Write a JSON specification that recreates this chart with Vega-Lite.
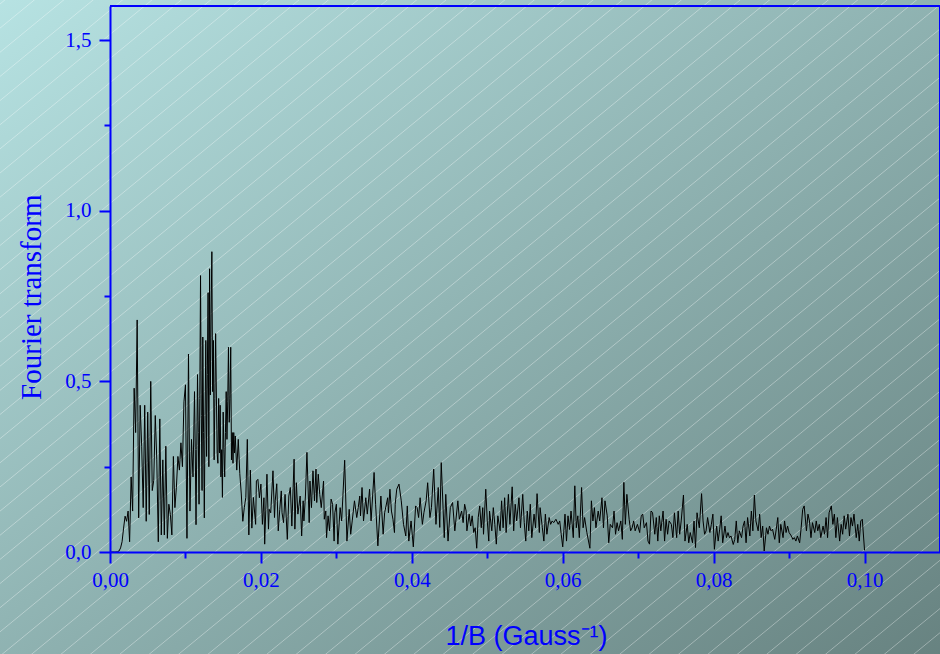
{
"$schema": "https://vega.github.io/schema/vega-lite/v6.json",
"width": 830, "height": 546,
"autosize": {"type": "none"},
"padding": {"left": 110, "top": 6, "right": 0, "bottom": 102},
"background": "#90b2b1",
"config": {"view": {"stroke": null},
 "axis": {"tickWidth": 2, "tickColor": "#0000ff", "domainColor": "#0000ff", "domainWidth": 2,
  "labelColor": "#0000ff", "labelFont": "Liberation Serif", "labelFontSize": 21,
  "labelFlush": false, "labelOverlap": false, "grid": false,
  "titleFontWeight": "normal", "titleColor": "#0000ff"}},
"resolve": {"axis": {"x": "independent", "y": "independent"}},
"layer": [
{"data": {"values": [{"k": 1}]},
 "mark": {"type": "rect", "clip": false, "fill": {"gradient": "linear", "x1": 0, "y1": 0, "x2": 1, "y2": 1, "stops": [{"offset": 0, "color": "#b7e3e3"}, {"offset": 1, "color": "#678280"}]}},
 "encoding": {
  "x": {"datum": -0.0152, "type": "quantitative", "scale": {"domain": [0, 0.11], "nice": false, "zero": false}, "axis": null},
  "x2": {"datum": 0.1105},
  "y": {"datum": 1.63, "type": "quantitative", "scale": {"domain": [0, 1.6], "nice": false, "zero": false}, "axis": null},
  "y2": {"datum": -0.31}}},
{"data": {"values": [{"k": 1}]},
 "mark": {"type": "rect", "clip": false, "fill": {"gradient": "linear", "x1": 0, "y1": 0, "x2": 1.2, "y2": 1.02, "stops": [
  {"offset":0,"color":"rgba(255,255,255,0)"},
  {"offset":0.0069,"color":"rgba(255,255,255,0)"},{"offset":0.0075,"color":"rgba(255,255,255,0.35)"},{"offset":0.0081,"color":"rgba(255,255,255,0)"},
  {"offset":0.0219,"color":"rgba(255,255,255,0)"},{"offset":0.0225,"color":"rgba(255,255,255,0.35)"},{"offset":0.0231,"color":"rgba(255,255,255,0)"},
  {"offset":0.0369,"color":"rgba(255,255,255,0)"},{"offset":0.0375,"color":"rgba(255,255,255,0.35)"},{"offset":0.0381,"color":"rgba(255,255,255,0)"},
  {"offset":0.0519,"color":"rgba(255,255,255,0)"},{"offset":0.0525,"color":"rgba(255,255,255,0.35)"},{"offset":0.0531,"color":"rgba(255,255,255,0)"},
  {"offset":0.0669,"color":"rgba(255,255,255,0)"},{"offset":0.0675,"color":"rgba(255,255,255,0.35)"},{"offset":0.0681,"color":"rgba(255,255,255,0)"},
  {"offset":0.0819,"color":"rgba(255,255,255,0)"},{"offset":0.0825,"color":"rgba(255,255,255,0.35)"},{"offset":0.0831,"color":"rgba(255,255,255,0)"},
  {"offset":0.0969,"color":"rgba(255,255,255,0)"},{"offset":0.0975,"color":"rgba(255,255,255,0.35)"},{"offset":0.0981,"color":"rgba(255,255,255,0)"},
  {"offset":0.1119,"color":"rgba(255,255,255,0)"},{"offset":0.1125,"color":"rgba(255,255,255,0.35)"},{"offset":0.1131,"color":"rgba(255,255,255,0)"},
  {"offset":0.1269,"color":"rgba(255,255,255,0)"},{"offset":0.1275,"color":"rgba(255,255,255,0.35)"},{"offset":0.1281,"color":"rgba(255,255,255,0)"},
  {"offset":0.1419,"color":"rgba(255,255,255,0)"},{"offset":0.1425,"color":"rgba(255,255,255,0.35)"},{"offset":0.1431,"color":"rgba(255,255,255,0)"},
  {"offset":0.1569,"color":"rgba(255,255,255,0)"},{"offset":0.1575,"color":"rgba(255,255,255,0.35)"},{"offset":0.1581,"color":"rgba(255,255,255,0)"},
  {"offset":0.1719,"color":"rgba(255,255,255,0)"},{"offset":0.1725,"color":"rgba(255,255,255,0.35)"},{"offset":0.1731,"color":"rgba(255,255,255,0)"},
  {"offset":0.1869,"color":"rgba(255,255,255,0)"},{"offset":0.1875,"color":"rgba(255,255,255,0.35)"},{"offset":0.1881,"color":"rgba(255,255,255,0)"},
  {"offset":0.2019,"color":"rgba(255,255,255,0)"},{"offset":0.2025,"color":"rgba(255,255,255,0.35)"},{"offset":0.2031,"color":"rgba(255,255,255,0)"},
  {"offset":0.2169,"color":"rgba(255,255,255,0)"},{"offset":0.2175,"color":"rgba(255,255,255,0.35)"},{"offset":0.2181,"color":"rgba(255,255,255,0)"},
  {"offset":0.2319,"color":"rgba(255,255,255,0)"},{"offset":0.2325,"color":"rgba(255,255,255,0.35)"},{"offset":0.2331,"color":"rgba(255,255,255,0)"},
  {"offset":0.2469,"color":"rgba(255,255,255,0)"},{"offset":0.2475,"color":"rgba(255,255,255,0.35)"},{"offset":0.2481,"color":"rgba(255,255,255,0)"},
  {"offset":0.2619,"color":"rgba(255,255,255,0)"},{"offset":0.2625,"color":"rgba(255,255,255,0.35)"},{"offset":0.2631,"color":"rgba(255,255,255,0)"},
  {"offset":0.2769,"color":"rgba(255,255,255,0)"},{"offset":0.2775,"color":"rgba(255,255,255,0.35)"},{"offset":0.2781,"color":"rgba(255,255,255,0)"},
  {"offset":0.2919,"color":"rgba(255,255,255,0)"},{"offset":0.2925,"color":"rgba(255,255,255,0.35)"},{"offset":0.2931,"color":"rgba(255,255,255,0)"},
  {"offset":0.3069,"color":"rgba(255,255,255,0)"},{"offset":0.3075,"color":"rgba(255,255,255,0.35)"},{"offset":0.3081,"color":"rgba(255,255,255,0)"},
  {"offset":0.3219,"color":"rgba(255,255,255,0)"},{"offset":0.3225,"color":"rgba(255,255,255,0.35)"},{"offset":0.3231,"color":"rgba(255,255,255,0)"},
  {"offset":0.3369,"color":"rgba(255,255,255,0)"},{"offset":0.3375,"color":"rgba(255,255,255,0.35)"},{"offset":0.3381,"color":"rgba(255,255,255,0)"},
  {"offset":0.3519,"color":"rgba(255,255,255,0)"},{"offset":0.3525,"color":"rgba(255,255,255,0.35)"},{"offset":0.3531,"color":"rgba(255,255,255,0)"},
  {"offset":0.3669,"color":"rgba(255,255,255,0)"},{"offset":0.3675,"color":"rgba(255,255,255,0.35)"},{"offset":0.3681,"color":"rgba(255,255,255,0)"},
  {"offset":0.3819,"color":"rgba(255,255,255,0)"},{"offset":0.3825,"color":"rgba(255,255,255,0.35)"},{"offset":0.3831,"color":"rgba(255,255,255,0)"},
  {"offset":0.3969,"color":"rgba(255,255,255,0)"},{"offset":0.3975,"color":"rgba(255,255,255,0.35)"},{"offset":0.3981,"color":"rgba(255,255,255,0)"},
  {"offset":0.4119,"color":"rgba(255,255,255,0)"},{"offset":0.4125,"color":"rgba(255,255,255,0.35)"},{"offset":0.4131,"color":"rgba(255,255,255,0)"},
  {"offset":0.4269,"color":"rgba(255,255,255,0)"},{"offset":0.4275,"color":"rgba(255,255,255,0.35)"},{"offset":0.4281,"color":"rgba(255,255,255,0)"},
  {"offset":0.4419,"color":"rgba(255,255,255,0)"},{"offset":0.4425,"color":"rgba(255,255,255,0.35)"},{"offset":0.4431,"color":"rgba(255,255,255,0)"},
  {"offset":0.4569,"color":"rgba(255,255,255,0)"},{"offset":0.4575,"color":"rgba(255,255,255,0.35)"},{"offset":0.4581,"color":"rgba(255,255,255,0)"},
  {"offset":0.4719,"color":"rgba(255,255,255,0)"},{"offset":0.4725,"color":"rgba(255,255,255,0.35)"},{"offset":0.4731,"color":"rgba(255,255,255,0)"},
  {"offset":0.4869,"color":"rgba(255,255,255,0)"},{"offset":0.4875,"color":"rgba(255,255,255,0.35)"},{"offset":0.4881,"color":"rgba(255,255,255,0)"},
  {"offset":0.5019,"color":"rgba(255,255,255,0)"},{"offset":0.5025,"color":"rgba(255,255,255,0.35)"},{"offset":0.5031,"color":"rgba(255,255,255,0)"},
  {"offset":0.5169,"color":"rgba(255,255,255,0)"},{"offset":0.5175,"color":"rgba(255,255,255,0.35)"},{"offset":0.5181,"color":"rgba(255,255,255,0)"},
  {"offset":0.5319,"color":"rgba(255,255,255,0)"},{"offset":0.5325,"color":"rgba(255,255,255,0.35)"},{"offset":0.5331,"color":"rgba(255,255,255,0)"},
  {"offset":0.5469,"color":"rgba(255,255,255,0)"},{"offset":0.5475,"color":"rgba(255,255,255,0.35)"},{"offset":0.5481,"color":"rgba(255,255,255,0)"},
  {"offset":0.5619,"color":"rgba(255,255,255,0)"},{"offset":0.5625,"color":"rgba(255,255,255,0.35)"},{"offset":0.5631,"color":"rgba(255,255,255,0)"},
  {"offset":0.5769,"color":"rgba(255,255,255,0)"},{"offset":0.5775,"color":"rgba(255,255,255,0.35)"},{"offset":0.5781,"color":"rgba(255,255,255,0)"},
  {"offset":0.5919,"color":"rgba(255,255,255,0)"},{"offset":0.5925,"color":"rgba(255,255,255,0.35)"},{"offset":0.5931,"color":"rgba(255,255,255,0)"},
  {"offset":0.6069,"color":"rgba(255,255,255,0)"},{"offset":0.6075,"color":"rgba(255,255,255,0.35)"},{"offset":0.6081,"color":"rgba(255,255,255,0)"},
  {"offset":0.6219,"color":"rgba(255,255,255,0)"},{"offset":0.6225,"color":"rgba(255,255,255,0.35)"},{"offset":0.6231,"color":"rgba(255,255,255,0)"},
  {"offset":0.6369,"color":"rgba(255,255,255,0)"},{"offset":0.6375,"color":"rgba(255,255,255,0.35)"},{"offset":0.6381,"color":"rgba(255,255,255,0)"},
  {"offset":0.6519,"color":"rgba(255,255,255,0)"},{"offset":0.6525,"color":"rgba(255,255,255,0.35)"},{"offset":0.6531,"color":"rgba(255,255,255,0)"},
  {"offset":0.6669,"color":"rgba(255,255,255,0)"},{"offset":0.6675,"color":"rgba(255,255,255,0.35)"},{"offset":0.6681,"color":"rgba(255,255,255,0)"},
  {"offset":0.6819,"color":"rgba(255,255,255,0)"},{"offset":0.6825,"color":"rgba(255,255,255,0.35)"},{"offset":0.6831,"color":"rgba(255,255,255,0)"},
  {"offset":0.6969,"color":"rgba(255,255,255,0)"},{"offset":0.6975,"color":"rgba(255,255,255,0.35)"},{"offset":0.6981,"color":"rgba(255,255,255,0)"},
  {"offset":0.7119,"color":"rgba(255,255,255,0)"},{"offset":0.7125,"color":"rgba(255,255,255,0.35)"},{"offset":0.7131,"color":"rgba(255,255,255,0)"},
  {"offset":0.7269,"color":"rgba(255,255,255,0)"},{"offset":0.7275,"color":"rgba(255,255,255,0.35)"},{"offset":0.7281,"color":"rgba(255,255,255,0)"},
  {"offset":0.7419,"color":"rgba(255,255,255,0)"},{"offset":0.7425,"color":"rgba(255,255,255,0.35)"},{"offset":0.7431,"color":"rgba(255,255,255,0)"},
  {"offset":0.7569,"color":"rgba(255,255,255,0)"},{"offset":0.7575,"color":"rgba(255,255,255,0.35)"},{"offset":0.7581,"color":"rgba(255,255,255,0)"},
  {"offset":0.7719,"color":"rgba(255,255,255,0)"},{"offset":0.7725,"color":"rgba(255,255,255,0.35)"},{"offset":0.7731,"color":"rgba(255,255,255,0)"},
  {"offset":0.7869,"color":"rgba(255,255,255,0)"},{"offset":0.7875,"color":"rgba(255,255,255,0.35)"},{"offset":0.7881,"color":"rgba(255,255,255,0)"},
  {"offset":0.8019,"color":"rgba(255,255,255,0)"},{"offset":0.8025,"color":"rgba(255,255,255,0.35)"},{"offset":0.8031,"color":"rgba(255,255,255,0)"},
  {"offset":0.8169,"color":"rgba(255,255,255,0)"},{"offset":0.8175,"color":"rgba(255,255,255,0.35)"},{"offset":0.8181,"color":"rgba(255,255,255,0)"},
  {"offset":0.8319,"color":"rgba(255,255,255,0)"},{"offset":0.8325,"color":"rgba(255,255,255,0.35)"},{"offset":0.8331,"color":"rgba(255,255,255,0)"},
  {"offset":0.8469,"color":"rgba(255,255,255,0)"},{"offset":0.8475,"color":"rgba(255,255,255,0.35)"},{"offset":0.8481,"color":"rgba(255,255,255,0)"},
  {"offset":0.8619,"color":"rgba(255,255,255,0)"},{"offset":0.8625,"color":"rgba(255,255,255,0.35)"},{"offset":0.8631,"color":"rgba(255,255,255,0)"},
  {"offset":0.8769,"color":"rgba(255,255,255,0)"},{"offset":0.8775,"color":"rgba(255,255,255,0.35)"},{"offset":0.8781,"color":"rgba(255,255,255,0)"},
  {"offset":0.8919,"color":"rgba(255,255,255,0)"},{"offset":0.8925,"color":"rgba(255,255,255,0.35)"},{"offset":0.8931,"color":"rgba(255,255,255,0)"},
  {"offset":1,"color":"rgba(255,255,255,0)"}]}},
 "encoding": {
  "x": {"datum": -0.0152, "type": "quantitative", "axis": null},
  "x2": {"datum": 0.1105},
  "y": {"datum": 1.63, "type": "quantitative", "axis": null},
  "y2": {"datum": -0.31}}},
{"data": {"values": [{"k": 1}]},
 "mark": {"type": "rule", "color": "#0000ff", "strokeWidth": 2},
 "encoding": {"y": {"datum": 1.6, "type": "quantitative",
   "axis": {"orient": "left", "values": [0.25, 0.75, 1.25], "tickSize": 6, "tickWidth": 2, "labels": false, "domain": false, "title": null, "zindex": 1}}}},
{"data": {"values": [{"k": 1}]},
 "mark": {"type": "rule", "color": "#0000ff", "strokeWidth": 2},
 "encoding": {"x": {"datum": 0.11, "type": "quantitative",
   "axis": {"orient": "bottom", "values": [0.01, 0.03, 0.05, 0.07, 0.09], "tickSize": 6, "tickWidth": 2, "labels": false, "domain": false, "title": null, "zindex": 1}}}},
{"data": {"values": [
{"invB":0,"ft":0},{"invB":0.0002,"ft":0},{"invB":0.0004,"ft":0},{"invB":0.0006,"ft":0},{"invB":0.0008,"ft":0},{"invB":0.0010,"ft":0.001},{"invB":0.0012,"ft":0.003},{"invB":0.0014,"ft":0.012},{"invB":0.0016,"ft":0.03},{"invB":0.0018,"ft":0.07},
{"invB":0.0020,"ft":0.105},{"invB":0.0022,"ft":0.09},{"invB":0.0024,"ft":0.12},{"invB":0.0026,"ft":0.03},{"invB":0.0028,"ft":0.22},{"invB":0.0030,"ft":0.12},{"invB":0.0032,"ft":0.48},{"invB":0.0034,"ft":0.35},{"invB":0.0036,"ft":0.68},{"invB":0.0038,"ft":0.10},
{"invB":0.0040,"ft":0.43},{"invB":0.0042,"ft":0.31},{"invB":0.0044,"ft":0.13},{"invB":0.0046,"ft":0.43},{"invB":0.0048,"ft":0.09},{"invB":0.0050,"ft":0.41},{"invB":0.0052,"ft":0.11},{"invB":0.0054,"ft":0.50},{"invB":0.0056,"ft":0.18},{"invB":0.0058,"ft":0.21},
{"invB":0.0060,"ft":0.40},{"invB":0.0062,"ft":0.27},{"invB":0.0064,"ft":0.03},{"invB":0.0066,"ft":0.39},{"invB":0.0068,"ft":0.05},{"invB":0.0070,"ft":0.27},{"invB":0.0072,"ft":0.05},{"invB":0.0074,"ft":0.31},{"invB":0.0076,"ft":0.04},{"invB":0.0078,"ft":0.14},
{"invB":0.0080,"ft":0.11},{"invB":0.0082,"ft":0.05},{"invB":0.0084,"ft":0.28},{"invB":0.0086,"ft":0.13},{"invB":0.0088,"ft":0.19},{"invB":0.0090,"ft":0.28},{"invB":0.0092,"ft":0.24},{"invB":0.0094,"ft":0.32},{"invB":0.0096,"ft":0.25},{"invB":0.0098,"ft":0.44},
{"invB":0.0100,"ft":0.49},{"invB":0.0102,"ft":0.04},{"invB":0.0104,"ft":0.58},{"invB":0.0106,"ft":0.12},{"invB":0.0108,"ft":0.33},{"invB":0.0110,"ft":0.22},
{"invB":0.0112,"ft":0.47},{"invB":0.0113,"ft":0.30},{"invB":0.0114,"ft":0.08},{"invB":0.0115,"ft":0.30},{"invB":0.0116,"ft":0.52},{"invB":0.0117,"ft":0.35},{"invB":0.0118,"ft":0.14},{"invB":0.0119,"ft":0.45},
{"invB":0.0120,"ft":0.81},{"invB":0.0121,"ft":0.40},{"invB":0.0122,"ft":0.18},{"invB":0.0123,"ft":0.63},{"invB":0.0124,"ft":0.35},{"invB":0.0125,"ft":0.10},{"invB":0.0126,"ft":0.40},{"invB":0.0127,"ft":0.62},{"invB":0.0128,"ft":0.28},{"invB":0.0129,"ft":0.52},
{"invB":0.0130,"ft":0.76},{"invB":0.0131,"ft":0.25},{"invB":0.0132,"ft":0.83},{"invB":0.0133,"ft":0.46},{"invB":0.0134,"ft":0.70},{"invB":0.0135,"ft":0.88},{"invB":0.0136,"ft":0.47},{"invB":0.0137,"ft":0.62},{"invB":0.0138,"ft":0.27},{"invB":0.0139,"ft":0.45},
{"invB":0.0140,"ft":0.64},{"invB":0.0141,"ft":0.46},{"invB":0.0142,"ft":0.29},{"invB":0.0143,"ft":0.26},{"invB":0.0144,"ft":0.45},{"invB":0.0145,"ft":0.29},{"invB":0.0146,"ft":0.43},{"invB":0.0147,"ft":0.22},{"invB":0.0148,"ft":0.30},{"invB":0.0149,"ft":0.16},
{"invB":0.0150,"ft":0.41},{"invB":0.0151,"ft":0.30},{"invB":0.0152,"ft":0.22},{"invB":0.0153,"ft":0.35},{"invB":0.0154,"ft":0.47},{"invB":0.0155,"ft":0.33},{"invB":0.0156,"ft":0.44},{"invB":0.0157,"ft":0.60},{"invB":0.0158,"ft":0.38},{"invB":0.0159,"ft":0.45},
{"invB":0.0160,"ft":0.60},{"invB":0.0161,"ft":0.27},{"invB":0.0162,"ft":0.35},{"invB":0.0163,"ft":0.26},{"invB":0.0164,"ft":0.35},{"invB":0.0165,"ft":0.29},{"invB":0.0166,"ft":0.34},
{"invB":0.0168,"ft":0.24},{"invB":0.0170,"ft":0.33},{"invB":0.0172,"ft":0.23},{"invB":0.0174,"ft":0.17},{"invB":0.0176,"ft":0.09},{"invB":0.0178,"ft":0.13},{"invB":0.0180,"ft":0.16},{"invB":0.0182,"ft":0.33},{"invB":0.0184,"ft":0.05},{"invB":0.0186,"ft":0.24},{"invB":0.0188,"ft":0.07},{"invB":0.0190,"ft":0.16},
{"invB":0.0193,"ft":0.081},{"invB":0.0194,"ft":0.208},{"invB":0.0196,"ft":0.213},{"invB":0.0198,"ft":0.159},{"invB":0.0200,"ft":0.199},{"invB":0.0202,"ft":0.081},{"invB":0.0204,"ft":0.159},{"invB":0.0205,"ft":0.023},{"invB":0.0208,"ft":0.228},{"invB":0.0210,"ft":0.067},
{"invB":0.0211,"ft":0.125},{"invB":0.0213,"ft":0.115},{"invB":0.0216,"ft":0.238},{"invB":0.0218,"ft":0.101},{"invB":0.0219,"ft":0.150},{"invB":0.0221,"ft":0.20},{"invB":0.0223,"ft":0.062},{"invB":0.0225,"ft":0.125},{"invB":0.0227,"ft":0.179},{"invB":0.0228,"ft":0.115},{"invB":0.0230,"ft":0.086},
{"invB":0.0232,"ft":0.169},{"invB":0.0235,"ft":0.037},{"invB":0.0237,"ft":0.164},{"invB":0.0239,"ft":0.189},{"invB":0.0241,"ft":0.076},{"invB":0.0244,"ft":0.272},{"invB":0.0245,"ft":0.067},{"invB":0.0247,"ft":0.203},{"invB":0.0249,"ft":0.111},{"invB":0.0252,"ft":0.164},
{"invB":0.0254,"ft":0.047},{"invB":0.0256,"ft":0.150},{"invB":0.0257,"ft":0.091},{"invB":0.0259,"ft":0.164},{"invB":0.0261,"ft":0.292},{"invB":0.0264,"ft":0.086},{"invB":0.0265,"ft":0.208},{"invB":0.0267,"ft":0.130},{"invB":0.0269,"ft":0.238},{"invB":0.0271,"ft":0.150},
{"invB":0.0273,"ft":0.243},{"invB":0.0274,"ft":0.145},{"invB":0.0276,"ft":0.228},{"invB":0.0278,"ft":0.169},{"invB":0.0280,"ft":0.130},{"invB":0.0283,"ft":0.208},{"invB":0.0284,"ft":0.096},{"invB":0.0286,"ft":0.120},{"invB":0.0287,"ft":0.042},{"invB":0.0289,"ft":0.106},
{"invB":0.0291,"ft":0.062},{"invB":0.0293,"ft":0.155},{"invB":0.0295,"ft":0.14},{"invB":0.0297,"ft":0.032},{"invB":0.0298,"ft":0.115},{"invB":0.0300,"ft":0.140},{"invB":0.0302,"ft":0.023},{"invB":0.0305,"ft":0.130},{"invB":0.0307,"ft":0.091},{"invB":0.0309,"ft":0.179},
{"invB":0.0311,"ft":0.269},{"invB":0.0314,"ft":0.032},{"invB":0.0317,"ft":0.125},{"invB":0.0319,"ft":0.052},{"invB":0.0321,"ft":0.091},{"invB":0.0324,"ft":0.150},{"invB":0.0327,"ft":0.101},{"invB":0.0329,"ft":0.130},{"invB":0.0331,"ft":0.164},{"invB":0.0332,"ft":0.106},
{"invB":0.0334,"ft":0.189},{"invB":0.0336,"ft":0.091},{"invB":0.0339,"ft":0.159},{"invB":0.0341,"ft":0.111},{"invB":0.0344,"ft":0.184},{"invB":0.0346,"ft":0.091},{"invB":0.0350,"ft":0.233},{"invB":0.0352,"ft":0.140},{"invB":0.0355,"ft":0.018},{"invB":0.0359,"ft":0.164},
{"invB":0.0362,"ft":0.052},{"invB":0.0364,"ft":0.115},{"invB":0.0368,"ft":0.159},{"invB":0.0369,"ft":0.115},{"invB":0.0371,"ft":0.184},{"invB":0.0373,"ft":0.120},{"invB":0.0375,"ft":0.096},{"invB":0.0377,"ft":0.057},{"invB":0.0378,"ft":0.140},{"invB":0.0380,"ft":0.184},
{"invB":0.0383,"ft":0.199},{"invB":0.0386,"ft":0.150},{"invB":0.0389,"ft":0.081},{"invB":0.0392,"ft":0.047},{"invB":0.0394,"ft":0.135},{"invB":0.0396,"ft":0.032},{"invB":0.0399,"ft":0.091},{"invB":0.0402,"ft":0.015},{"invB":0.0405,"ft":0.135},{"invB":0.0407,"ft":0.130},
{"invB":0.0409,"ft":0.101},{"invB":0.0411,"ft":0.159},{"invB":0.0414,"ft":0.081},{"invB":0.0416,"ft":0.115},{"invB":0.0419,"ft":0.150},{"invB":0.0421,"ft":0.203},{"invB":0.0424,"ft":0.101},{"invB":0.0426,"ft":0.130},{"invB":0.0429,"ft":0.243},{"invB":0.0432,"ft":0.081},
{"invB":0.0435,"ft":0.189},{"invB":0.0437,"ft":0.072},{"invB":0.0439,"ft":0.262},{"invB":0.0443,"ft":0.042},{"invB":0.0445,"ft":0.169},{"invB":0.0448,"ft":0.032},{"invB":0.0451,"ft":0.130},{"invB":0.0454,"ft":0.145},{"invB":0.0457,"ft":0.062},{"invB":0.0461,"ft":0.150},
{"invB":0.0463,"ft":0.096},{"invB":0.0466,"ft":0.120},{"invB":0.0468,"ft":0.086},{"invB":0.0470,"ft":0.140},
{"invB":0.0472,"ft":0.120},{"invB":0.0473,"ft":0.062},{"invB":0.0476,"ft":0.111},{"invB":0.0478,"ft":0.076},{"invB":0.0480,"ft":0.106},{"invB":0.0482,"ft":0.057},{"invB":0.0484,"ft":0.071},{"invB":0.0486,"ft":0.011},{"invB":0.0488,"ft":0.101},{"invB":0.0490,"ft":0.135},
{"invB":0.0492,"ft":0.071},{"invB":0.0494,"ft":0.130},{"invB":0.0495,"ft":0.052},{"invB":0.0498,"ft":0.184},{"invB":0.0500,"ft":0.091},{"invB":0.0502,"ft":0.032},{"invB":0.0503,"ft":0.120},{"invB":0.0506,"ft":0.062},{"invB":0.0508,"ft":0.130},{"invB":0.0510,"ft":0.081},
{"invB":0.0512,"ft":0.023},{"invB":0.0514,"ft":0.106},{"invB":0.0517,"ft":0.062},{"invB":0.0519,"ft":0.150},{"invB":0.0521,"ft":0.071},{"invB":0.0523,"ft":0.159},{"invB":0.0525,"ft":0.057},{"invB":0.0528,"ft":0.169},{"invB":0.0530,"ft":0.081},{"invB":0.0533,"ft":0.191},
{"invB":0.0535,"ft":0.062},{"invB":0.0537,"ft":0.140},{"invB":0.0539,"ft":0.091},{"invB":0.0542,"ft":0.159},{"invB":0.0544,"ft":0.071},{"invB":0.0547,"ft":0.169},{"invB":0.0549,"ft":0.086},{"invB":0.0551,"ft":0.032},{"invB":0.0553,"ft":0.120},{"invB":0.0555,"ft":0.062},
{"invB":0.0557,"ft":0.140},{"invB":0.0559,"ft":0.042},{"invB":0.0562,"ft":0.111},{"invB":0.0564,"ft":0.071},{"invB":0.0566,"ft":0.171},{"invB":0.0569,"ft":0.057},{"invB":0.0570,"ft":0.130},{"invB":0.0573,"ft":0.071},{"invB":0.0575,"ft":0.032},{"invB":0.0577,"ft":0.111},
{"invB":0.0579,"ft":0.052},{"invB":0.0582,"ft":0.101},{"invB":0.0584,"ft":0.081},{"invB":0.0586,"ft":0.091},{"invB":0.0588,"ft":0.086},{"invB":0.0591,"ft":0.096},{"invB":0.0594,"ft":0.081},{"invB":0.0596,"ft":0.091},{"invB":0.0598,"ft":0.052},{"invB":0.0600,"ft":0.015},
{"invB":0.0603,"ft":0.111},{"invB":0.0605,"ft":0.032},{"invB":0.0607,"ft":0.106},{"invB":0.0609,"ft":0.066},{"invB":0.0611,"ft":0.120},{"invB":0.0614,"ft":0.042},{"invB":0.0616,"ft":0.194},{"invB":0.0618,"ft":0.071},{"invB":0.0620,"ft":0.106},{"invB":0.0622,"ft":0.042},
{"invB":0.0625,"ft":0.189},{"invB":0.0627,"ft":0.071},{"invB":0.0629,"ft":0.101},{"invB":0.0632,"ft":0.057},{"invB":0.0636,"ft":0.011},{"invB":0.0638,"ft":0.150},{"invB":0.0640,"ft":0.091},{"invB":0.0642,"ft":0.130},{"invB":0.0644,"ft":0.071},{"invB":0.0647,"ft":0.120},
{"invB":0.0649,"ft":0.091},{"invB":0.0652,"ft":0.159},{"invB":0.0654,"ft":0.071},{"invB":0.0656,"ft":0.150},{"invB":0.0659,"ft":0.106},{"invB":0.0661,"ft":0.027},{"invB":0.0663,"ft":0.081},{"invB":0.0666,"ft":0.071},{"invB":0.0668,"ft":0.120},{"invB":0.0670,"ft":0.052},
{"invB":0.0672,"ft":0.086},{"invB":0.0674,"ft":0.062},{"invB":0.0677,"ft":0.091},{"invB":0.0679,"ft":0.037},{"invB":0.0681,"ft":0.204},{"invB":0.0683,"ft":0.081},{"invB":0.0685,"ft":0.169},{"invB":0.0688,"ft":0.096},{"invB":0.0690,"ft":0.062},{"invB":0.0692,"ft":0.071},
{"invB":0.0694,"ft":0.091},{"invB":0.0696,"ft":0.062},{"invB":0.0699,"ft":0.081},{"invB":0.0702,"ft":0.057},{"invB":0.0704,"ft":0.106},{"invB":0.0706,"ft":0.111},{"invB":0.0708,"ft":0.071},{"invB":0.0711,"ft":0.086},{"invB":0.0713,"ft":0.032},{"invB":0.0715,"ft":0.023},
{"invB":0.0717,"ft":0.120},{"invB":0.0719,"ft":0.116},{"invB":0.0722,"ft":0.052},{"invB":0.0724,"ft":0.101},{"invB":0.0726,"ft":0.032},{"invB":0.0728,"ft":0.106},{"invB":0.0730,"ft":0.062},{"invB":0.0733,"ft":0.120},{"invB":0.0735,"ft":0.032},{"invB":0.0737,"ft":0.096},
{"invB":0.0739,"ft":0.052},{"invB":0.0741,"ft":0.091},
{"invB":0.0744,"ft":0.081},{"invB":0.0746,"ft":0.042},{"invB":0.0748,"ft":0.115},{"invB":0.0751,"ft":0.042},{"invB":0.0753,"ft":0.120},{"invB":0.0755,"ft":0.052},{"invB":0.0757,"ft":0.091},{"invB":0.0760,"ft":0.167},{"invB":0.0762,"ft":0.032},{"invB":0.0765,"ft":0.081},
{"invB":0.0767,"ft":0.027},{"invB":0.0769,"ft":0.057},{"invB":0.0772,"ft":0.027},{"invB":0.0774,"ft":0.091},{"invB":0.0776,"ft":0.013},{"invB":0.0778,"ft":0.115},{"invB":0.0781,"ft":0.071},{"invB":0.0784,"ft":0.171},{"invB":0.0786,"ft":0.091},{"invB":0.0788,"ft":0.052},
{"invB":0.0790,"ft":0.062},{"invB":0.0792,"ft":0.101},{"invB":0.0795,"ft":0.057},{"invB":0.0797,"ft":0.081},{"invB":0.0799,"ft":0.111},{"invB":0.0801,"ft":0.008},{"invB":0.0804,"ft":0.076},{"invB":0.0806,"ft":0.032},{"invB":0.0808,"ft":0.067},{"invB":0.0810,"ft":0.106},
{"invB":0.0812,"ft":0.027},{"invB":0.0815,"ft":0.076},{"invB":0.0817,"ft":0.042},{"invB":0.0819,"ft":0.057},{"invB":0.0821,"ft":0.042},{"invB":0.0823,"ft":0.047},{"invB":0.0826,"ft":0.022},{"invB":0.0828,"ft":0.037},{"invB":0.0830,"ft":0.091},{"invB":0.0832,"ft":0.027},
{"invB":0.0834,"ft":0.062},{"invB":0.0837,"ft":0.042},{"invB":0.0839,"ft":0.076},{"invB":0.0841,"ft":0.091},{"invB":0.0843,"ft":0.027},{"invB":0.0845,"ft":0.101},{"invB":0.0848,"ft":0.047},{"invB":0.0850,"ft":0.120},{"invB":0.0852,"ft":0.062},{"invB":0.0854,"ft":0.167},
{"invB":0.0856,"ft":0.091},{"invB":0.0859,"ft":0.062},{"invB":0.0861,"ft":0.111},{"invB":0.0863,"ft":0.042},{"invB":0.0865,"ft":0.076},{"invB":0.0867,"ft":0.003},{"invB":0.0870,"ft":0.071},{"invB":0.0872,"ft":0.052},{"invB":0.0874,"ft":0.076},{"invB":0.0876,"ft":0.062},
{"invB":0.0878,"ft":0.067},{"invB":0.0881,"ft":0.037},{"invB":0.0883,"ft":0.067},{"invB":0.0885,"ft":0.101},{"invB":0.0887,"ft":0.027},{"invB":0.0889,"ft":0.081},{"invB":0.0892,"ft":0.042},{"invB":0.0894,"ft":0.091},{"invB":0.0896,"ft":0.057},{"invB":0.0898,"ft":0.076},
{"invB":0.0900,"ft":0.057},{"invB":0.0903,"ft":0.047},{"invB":0.0905,"ft":0.037},{"invB":0.0907,"ft":0.042},{"invB":0.0909,"ft":0.032},{"invB":0.0911,"ft":0.047},{"invB":0.0914,"ft":0.027},{"invB":0.0916,"ft":0.071},{"invB":0.0918,"ft":0.125},{"invB":0.0920,"ft":0.135},
{"invB":0.0923,"ft":0.062},{"invB":0.0925,"ft":0.111},{"invB":0.0927,"ft":0.091},{"invB":0.0929,"ft":0.042},{"invB":0.0931,"ft":0.086},{"invB":0.0934,"ft":0.057},{"invB":0.0936,"ft":0.091},{"invB":0.0938,"ft":0.062},{"invB":0.0940,"ft":0.081},{"invB":0.0942,"ft":0.042},
{"invB":0.0945,"ft":0.076},{"invB":0.0947,"ft":0.052},{"invB":0.0949,"ft":0.101},{"invB":0.0951,"ft":0.042},{"invB":0.0953,"ft":0.115},{"invB":0.0956,"ft":0.135},{"invB":0.0958,"ft":0.081},{"invB":0.0960,"ft":0.111},{"invB":0.0962,"ft":0.042},{"invB":0.0964,"ft":0.101},
{"invB":0.0967,"ft":0.032},{"invB":0.0969,"ft":0.081},{"invB":0.0971,"ft":0.052},{"invB":0.0973,"ft":0.106},{"invB":0.0975,"ft":0.067},{"invB":0.0978,"ft":0.111},{"invB":0.0980,"ft":0.047},{"invB":0.0982,"ft":0.101},{"invB":0.0984,"ft":0.076},{"invB":0.0986,"ft":0.111},
{"invB":0.0989,"ft":0.042},{"invB":0.0991,"ft":0.081},{"invB":0.0993,"ft":0.032},{"invB":0.0995,"ft":0.091},{"invB":0.0997,"ft":0.096},{"invB":0.1000,"ft":0.005}
]},
 "mark": {"type": "line", "color": "#000000", "strokeWidth": 1},
 "encoding": {
  "x": {"field": "invB", "type": "quantitative",
   "scale": {"domain": [0, 0.11], "nice": false, "zero": false},
   "axis": {
    "orient": "bottom",
    "values": [0, 0.02, 0.04, 0.06, 0.08, 0.1],
    "labelExpr": "replace(format(datum.value, '.2f'), '.', ',')",
    "tickSize": 11, "tickWidth": 2, "domainWidth": 2, "labelPadding": 6, "zindex": 1,
    "title": "1/B (Gauss⁻¹)", "titleFont": "Liberation Sans", "titleFontSize": 27,
    "titleX": 416, "titleY": 92, "titleBaseline": "alphabetic", "titleAlign": "center"}},
  "y": {"field": "ft", "type": "quantitative",
   "scale": {"domain": [0, 1.6], "nice": false, "zero": false},
   "axis": {
    "orient": "left",
    "values": [0, 0.5, 1, 1.5],
    "labelExpr": "replace(format(datum.value, '.1f'), '.', ',')",
    "tickSize": 11, "tickWidth": 2, "domainWidth": 2, "labelPadding": 8, "zindex": 1,
    "title": "Fourier transform", "titleFont": "Liberation Serif", "titleFontSize": 29,
    "titleX": -70, "titleY": 290.7, "titleAngle": -90, "titleBaseline": "alphabetic", "titleAlign": "center"}}}}
]
}
